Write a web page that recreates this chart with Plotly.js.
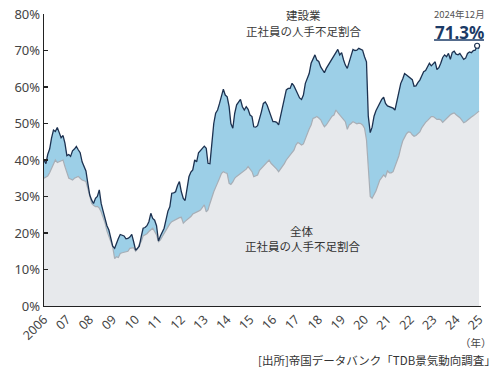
<!DOCTYPE html>
<html>
<head>
<meta charset="utf-8">
<script src="https://cdn.plot.ly/plotly-3.0.1.min.js"></script>
<style>
html,body{margin:0;padding:0;background:#fff;}
#chart{width:504px;height:376px;}
</style>
</head>
<body>
<div id="chart"></div>
<script>
// Tick labels for the x axis (one per January)
const tickYears = ['2006','2007','2008','2009','2010','2011','2012','2013','2014','2015','2016','2017','2018','2019','2020','2021','2022','2023','2024','2025'];
const tickLabels = ['2006','07','08','09','10','11','12','13','14','15','16','17','18','19','20','21','22','23','24','25'];

// 建設業 正社員の人手不足割合 (%), monthly, Jan..Dec
const constr2006 = [40.0, 39.0, 41.5, 43.0, 46.0, 48.2, 47.8, 48.9, 47.5, 46.1, 46.7, 44.6];
const constr2007 = [41.2, 41.5, 41.0, 42.5, 43.0, 43.7, 42.8, 42.0, 39.5, 38.0, 37.0, 33.6];
const constr2008 = [30.4, 29.0, 28.1, 29.5, 30.0, 31.8, 28.1, 26.0, 23.6, 22.0, 20.8, 18.5];
const constr2009 = [16.4, 15.8, 17.2, 18.5, 19.6, 19.5, 19.2, 18.4, 18.5, 18.9, 19.6, 17.6];
const constr2010 = [15.3, 15.8, 16.4, 19.0, 21.3, 21.5, 22.0, 23.1, 25.4, 24.0, 23.5, 22.0];
const constr2011 = [17.8, 19.2, 20.3, 21.3, 23.6, 26.0, 27.2, 30.9, 31.0, 31.3, 33.0, 34.1];
const constr2012 = [31.3, 29.5, 28.9, 32.7, 35.4, 36.7, 37.3, 40.0, 39.5, 42.0, 42.7, 43.2];
const constr2013 = [43.8, 43.2, 39.1, 39.0, 43.7, 50.0, 52.8, 53.7, 55.5, 57.5, 59.4, 57.8];
const constr2014 = [57.3, 54.6, 50.0, 48.7, 52.8, 55.1, 55.8, 56.6, 54.6, 53.7, 54.6, 53.9];
const constr2015 = [52.3, 51.9, 49.1, 49.0, 49.4, 51.0, 53.2, 55.5, 55.9, 55.0, 53.5, 52.3];
const constr2016 = [50.5, 50.5, 50.3, 49.6, 51.9, 54.0, 56.4, 59.2, 59.6, 59.6, 61.0, 60.3];
const constr2017 = [59.2, 57.8, 57.0, 56.6, 57.8, 61.0, 62.5, 63.7, 66.5, 67.5, 68.8, 67.4];
const constr2018 = [67.0, 65.5, 64.7, 63.9, 65.1, 66.0, 66.9, 67.8, 68.8, 69.5, 70.3, 68.8];
const constr2019 = [69.4, 67.4, 66.0, 65.1, 67.0, 68.5, 70.3, 70.0, 70.1, 70.6, 70.3, 70.1];
const constr2020 = [68.3, 66.9, 52.0, 47.5, 49.0, 52.0, 53.5, 54.6, 55.8, 56.6, 57.2, 55.5];
const constr2021 = [54.8, 54.6, 54.4, 54.2, 53.7, 56.3, 58.8, 61.0, 62.2, 63.7, 63.3, 62.8];
const constr2022 = [62.5, 62.0, 60.2, 60.3, 61.2, 61.9, 63.0, 64.2, 64.5, 65.5, 66.5, 65.8];
const constr2023 = [66.5, 66.9, 64.8, 65.3, 66.5, 68.1, 68.8, 68.3, 69.2, 67.6, 69.5, 69.8];
const constr2024 = [69.0, 68.8, 69.2, 68.2, 67.6, 67.9, 69.2, 69.6, 69.4, 70.0, 70.1, 71.3];
const constr2025 = [70.5];

// 全体 正社員の人手不足割合 (%), monthly, Jan..Dec
const all2006 = [35.0, 35.2, 35.6, 36.5, 37.7, 39.0, 40.0, 39.3, 39.5, 39.7, 40.0, 38.2];
const all2007 = [36.5, 35.0, 34.8, 34.5, 35.0, 35.2, 35.5, 35.0, 34.5, 34.3, 34.1, 32.2];
const all2008 = [30.0, 28.1, 27.6, 27.2, 27.3, 26.8, 25.8, 24.3, 22.7, 20.5, 19.0, 17.5];
const all2009 = [16.2, 13.0, 13.5, 13.3, 14.4, 14.6, 14.8, 14.8, 15.0, 15.8, 16.0, 16.0];
const all2010 = [15.0, 15.6, 17.0, 17.6, 19.2, 19.4, 19.8, 20.4, 21.0, 21.3, 20.4, 19.5];
const all2011 = [17.6, 18.1, 19.0, 19.9, 21.0, 21.7, 22.5, 23.1, 23.4, 23.6, 24.0, 24.2];
const all2012 = [24.3, 22.7, 23.2, 23.6, 24.0, 24.5, 25.2, 25.4, 25.6, 26.0, 26.3, 27.0];
const all2013 = [27.7, 25.8, 26.3, 28.1, 30.0, 31.3, 32.5, 33.6, 35.0, 36.3, 36.8, 36.5];
const all2014 = [36.3, 33.6, 33.3, 34.0, 35.0, 35.5, 35.9, 36.3, 36.8, 37.2, 37.5, 38.2];
const all2015 = [37.5, 36.8, 35.4, 35.6, 35.9, 37.2, 37.7, 38.2, 38.8, 39.5, 40.0, 39.1];
const all2016 = [38.6, 38.2, 37.5, 36.8, 37.5, 38.2, 39.0, 40.0, 40.7, 41.4, 42.0, 42.7];
const all2017 = [44.1, 44.8, 44.5, 44.1, 44.4, 46.0, 47.3, 48.5, 49.6, 51.4, 51.6, 51.9];
const all2018 = [51.5, 51.0, 50.0, 49.1, 49.6, 50.3, 51.0, 52.0, 52.3, 53.7, 53.0, 52.3];
const all2019 = [51.9, 51.0, 50.5, 48.4, 49.6, 50.0, 50.5, 50.2, 49.9, 50.1, 50.0, 49.6];
const all2020 = [48.7, 45.5, 36.3, 30.0, 29.5, 30.4, 31.5, 33.0, 34.5, 35.2, 35.9, 35.4];
const all2021 = [37.0, 36.5, 36.5, 36.8, 38.2, 39.5, 41.1, 43.3, 45.2, 46.2, 47.2, 47.7];
const all2022 = [47.6, 46.9, 46.5, 46.7, 47.2, 47.7, 48.8, 49.6, 50.3, 50.8, 51.3, 51.9];
const all2023 = [51.9, 51.5, 51.1, 51.2, 51.0, 50.3, 50.8, 51.6, 52.1, 52.4, 52.7, 52.9];
const all2024 = [52.4, 52.0, 51.6, 50.9, 50.2, 50.5, 51.0, 51.4, 51.8, 52.1, 52.5, 53.0];
const all2025 = [53.4];

const construction = [].concat(constr2006, constr2007, constr2008, constr2009, constr2010,
  constr2011, constr2012, constr2013, constr2014, constr2015, constr2016, constr2017,
  constr2018, constr2019, constr2020, constr2021, constr2022, constr2023, constr2024, constr2025);
const allIndustry = [].concat(all2006, all2007, all2008, all2009, all2010,
  all2011, all2012, all2013, all2014, all2015, all2016, all2017,
  all2018, all2019, all2020, all2021, all2022, all2023, all2024, all2025);

// monthly date categories starting Jan 2006
const months = [];
for (let i = 0; i < construction.length; i++) {
  const y = 2006 + Math.floor(i / 12);
  const m = (i % 12) + 1;
  months.push(y + '-' + (m < 10 ? '0' + m : m) + '-01');
}
const latestMonth = '2024-12-01';
const latestIdx = months.indexOf(latestMonth);

const navy = '#1c3150';
const traces = [
  {
    x: months, y: allIndustry, type: 'scatter', mode: 'lines',
    line: {color: '#a7aeb6', width: 1.2},
    fill: 'tozeroy', fillcolor: '#e7e9ec', hoverinfo: 'skip'
  },
  {
    x: months, y: construction, type: 'scatter', mode: 'lines',
    line: {color: navy, width: 1.3},
    fill: 'tonexty', fillcolor: '#9ccfe7', hoverinfo: 'skip'
  },
  {
    x: [months[latestIdx]], y: [construction[latestIdx]], type: 'scatter', mode: 'markers',
    marker: {size: 5, color: '#ffffff', line: {color: navy, width: 1.2}}, hoverinfo: 'skip'
  }
];

// helpers converting pixel positions to paper coordinates (layout only)
const L = 43.5, R = 481, T = 14, B = 306;
const px = v => (v - L) / (R - L);
const py = v => (B - v) / (B - T);

const jp = '"Noto Sans CJK JP", "Noto Sans", sans-serif';
const ann = (text, x, y, size, color, extra) => Object.assign({
  text: text, xref: 'paper', yref: 'paper', x: px(x), y: py(y),
  xanchor: 'center', yanchor: 'middle', showarrow: false,
  font: {family: jp, size: size, color: color}
}, extra || {});

const layout = {
  width: 504, height: 376,
  margin: {l: L, r: 504 - R, t: T, b: 376 - B},
  paper_bgcolor: '#ffffff', plot_bgcolor: '#ffffff',
  showlegend: false,
  font: {family: jp},
  xaxis: {
    type: 'date', range: ['2006-01-01', '2025-02-01'],
    tickvals: tickYears.map(y => y + '-01-01'), ticktext: tickLabels,
    tickangle: -45, ticks: '', showgrid: false, zeroline: false,
    showline: true, linecolor: '#222222', linewidth: 1.3,
    tickfont: {family: '"Noto Sans", sans-serif', size: 12.5, color: '#444444'}
  },
  yaxis: {
    range: [0, 80], dtick: 10, ticksuffix: '%',
    ticks: 'inside', ticklen: 4, tickcolor: '#222222', tickwidth: 1.2,
    showgrid: false, zeroline: false,
    showline: true, linecolor: '#222222', linewidth: 1.3,
    tickfont: {family: '"Noto Sans", sans-serif', size: 13, color: '#444444'}
  },
  annotations: [
    ann('建設業', 303, 15.5, 11.5, '#3a3a3a'),
    ann('正社員の人手不足割合', 303, 31.5, 11.5, '#3a3a3a'),
    ann('2024年12月', 459, 13.5, 9.5, '#555555'),
    ann('<b>71.3%</b>', 459, 32, 17, '#1b3a66', {font: {family: '"Noto Sans", sans-serif', size: 17, color: '#1b3a66'}}),
    ann('全体', 302, 231, 11.5, '#333333'),
    ann('正社員の人手不足割合', 302, 246, 11.5, '#333333'),
    ann('（年）', 476, 342, 10.5, '#444444'),
    ann('[出所]帝国データバンク「TDB景気動向調査」', 498, 360, 11.5, '#333333', {xanchor: 'right'})
  ],
  shapes: [
    {type: 'line', xref: 'paper', yref: 'paper', x0: px(434), x1: px(484), y0: py(40), y1: py(40),
     line: {color: '#1b3a66', width: 1.5}}
  ]
};

Plotly.newPlot('chart', traces, layout, {staticPlot: true, displayModeBar: false});
</script>
</body>
</html>
